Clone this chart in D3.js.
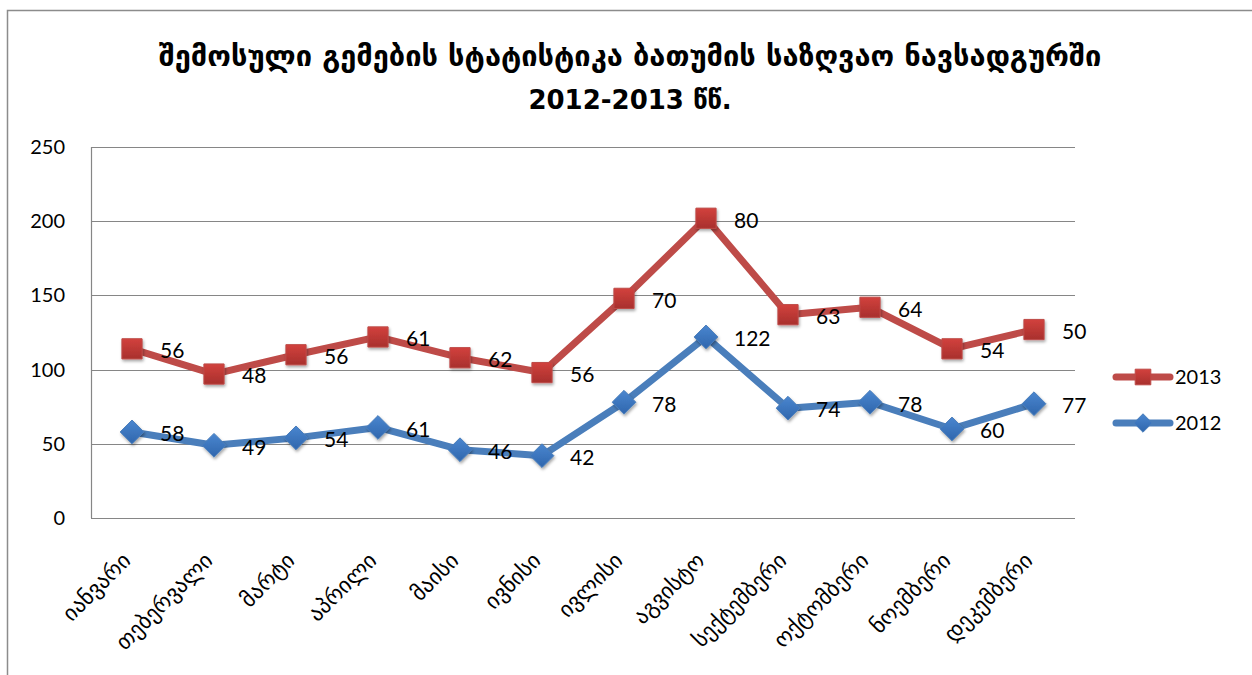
<!DOCTYPE html>
<html>
<head>
<meta charset="utf-8">
<script src="https://cdn.jsdelivr.net/npm/d3@7"></script>
<style>
  body { margin: 0; background: #fff; }
  svg { display: block; }
  text { font-family: Lato, "Liberation Sans", sans-serif; fill: #000; }
  .geo { font-family: "DejaVu Sans", sans-serif; }
</style>
</head>
<body>
<svg id="chart" width="1252" height="675"></svg>
<script>
const months = ["იანვარი", "თებერვალი", "მარტი", "აპრილი", "მაისი", "ივნისი",
  "ივლისი", "აგვისტო", "სექტემბერი", "ოქტომბერი", "ნოემბერი", "დეკემბერი"];
const values2012 = [58, 49, 54, 61, 46, 42, 78, 122, 74, 78, 60, 77];
const values2013 = [56, 48, 56, 61, 62, 56, 70, 80, 63, 64, 54, 50];
const yTicks = [0, 50, 100, 150, 200, 250];
const titleLines = ["შემოსული გემების სტატისტიკა  ბათუმის საზღვაო ნავსადგურში", "2012-2013 წწ."];

const svg = d3.select("#chart");
const plotL = 91, plotR = 1075, plotT = 147, plotB = 518;

// stacked: 2013 sits on top of 2012
const stacked = d3.stack().keys(["v2012", "v2013"])(
  months.map((m, i) => ({ m: m, v2012: values2012[i], v2013: values2013[i] }))
);

const x = d3.scaleBand().domain(months).range([plotL, plotR]);
const y = d3.scaleLinear().domain([0, 250]).range([plotB, plotT]);
const cx = m => x(m) + x.bandwidth() / 2;

const defs = svg.append("defs");
const rg = defs.append("linearGradient").attr("id", "redGrad").attr("x1", 0).attr("y1", 0).attr("x2", 0).attr("y2", 1);
rg.append("stop").attr("offset", "0%").attr("stop-color", "#d2413d");
rg.append("stop").attr("offset", "100%").attr("stop-color", "#a8302d");
const bg = defs.append("linearGradient").attr("id", "blueGrad").attr("x1", 0).attr("y1", 0).attr("x2", 0).attr("y2", 1);
bg.append("stop").attr("offset", "0%").attr("stop-color", "#4a86cf");
bg.append("stop").attr("offset", "100%").attr("stop-color", "#2f66ad");
const sh = defs.append("filter").attr("id", "shadow").attr("x", "-50%").attr("y", "-50%").attr("width", "200%").attr("height", "200%");
sh.append("feDropShadow").attr("dx", 1).attr("dy", 2).attr("stdDeviation", 1.5).attr("flood-color", "#000").attr("flood-opacity", 0.35);

// frame of the chart object
svg.append("path")
  .attr("d", "M7.5,675 V10.5 H1252")
  .attr("fill", "none").attr("stroke", "#8c8c8c").attr("stroke-width", 1.5);

// title
svg.append("text").attr("class", "geo")
  .attr("x", 630).attr("y", 66)
  .attr("text-anchor", "middle").attr("font-size", 29).attr("font-weight", "bold")
  .text(titleLines[0]);
svg.append("text").attr("class", "geo")
  .attr("x", 630).attr("y", 109)
  .attr("text-anchor", "middle").attr("font-size", 26).attr("font-weight", "bold")
  .text(titleLines[1]);

// gridlines
svg.append("g").selectAll("line").data(yTicks).join("line")
  .attr("x1", plotL).attr("x2", plotR)
  .attr("y1", d => Math.round(y(d)) + 0.5).attr("y2", d => Math.round(y(d)) + 0.5)
  .attr("stroke", "#868686").attr("stroke-width", 1.2);
svg.append("line")
  .attr("x1", plotL + 0.5).attr("x2", plotL + 0.5).attr("y1", plotT).attr("y2", plotB)
  .attr("stroke", "#868686").attr("stroke-width", 1.2);

// y axis labels
const yAxis = d3.axisLeft(y).tickValues(yTicks).tickSize(0).tickPadding(0);
const ya = svg.append("g").attr("transform", "translate(65,0)").call(yAxis);
ya.select(".domain").remove();
ya.selectAll("text").attr("font-size", 20).attr("font-family", "Lato, sans-serif").attr("fill", "#000");

// x labels, rotated
svg.append("g").selectAll("text").data(months).join("text")
  .attr("class", "geo")
  .attr("transform", d => `translate(${cx(d)},${562}) rotate(-45)`)
  .attr("text-anchor", "end")
  .attr("font-size", 22)
  .text(d => d);

const line = d3.line().x((d, i) => cx(months[i])).y(d => y(d[1]));

const series = [
  { layer: stacked[0], vals: values2012, color: "#4a7ebb", fill: "url(#blueGrad)", marker: d3.symbolDiamond2, size: 360 },
  { layer: stacked[1], vals: values2013, color: "#be4b48", fill: "url(#redGrad)", marker: d3.symbolSquare2, size: 520 }
];

series.forEach(s => {
  svg.append("path").datum(s.layer)
    .attr("d", line)
    .attr("fill", "none").attr("stroke", s.color)
    .attr("stroke-width", 7).attr("stroke-linejoin", "round").attr("stroke-linecap", "round");
});

series.forEach(s => {
  const sym = d3.symbol().type(s.marker).size(s.size);
  svg.append("g").selectAll("path").data(s.layer).join("path")
    .attr("transform", (d, i) => `translate(${cx(months[i])},${y(d[1])})`)
    .attr("d", sym)
    .attr("fill", s.fill)
    .attr("stroke", s.color).attr("stroke-width", 1)
    .attr("filter", "url(#shadow)");
  svg.append("g").selectAll("text").data(s.layer).join("text")
    .attr("x", (d, i) => cx(months[i]) + 28)
    .attr("y", d => y(d[1]) + 4)
    .attr("dominant-baseline", "middle")
    .attr("font-size", 21)
    .text((d, i) => s.vals[i]);
});

// legend
const legend = [
  { name: "2013", s: series[1], y: 377 },
  { name: "2012", s: series[0], y: 423 }
];
legend.forEach(l => {
  svg.append("line")
    .attr("x1", 1116).attr("x2", 1170).attr("y1", l.y).attr("y2", l.y)
    .attr("stroke", l.s.color).attr("stroke-width", 7).attr("stroke-linecap", "round");
  svg.append("path")
    .attr("transform", `translate(1143,${l.y})`)
    .attr("d", d3.symbol().type(l.s.marker).size(l.s.size * 0.6))
    .attr("fill", l.s.fill).attr("stroke", l.s.color);
  svg.append("text")
    .attr("x", 1175).attr("y", l.y + 2)
    .attr("dominant-baseline", "middle")
    .attr("font-size", 20)
    .text(l.name);
});
</script>
</body>
</html>
